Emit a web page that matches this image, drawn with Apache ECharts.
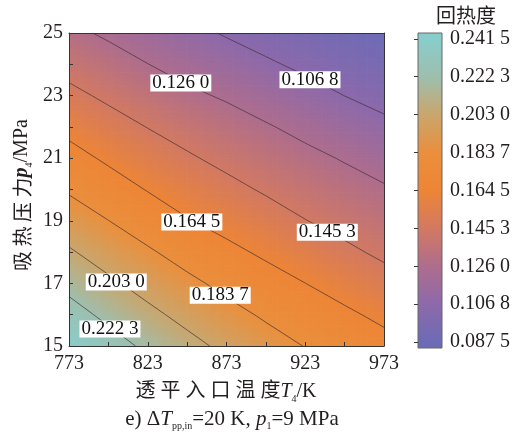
<!DOCTYPE html>
<html>
<head>
<meta charset="utf-8">
<script src="https://cdn.jsdelivr.net/npm/echarts@6/dist/echarts.min.js"></script>
<style>
html, body { margin: 0; padding: 0; background: #fff; }
#chart { width: 522px; height: 441px; }
</style>
</head>
<body>
<div id="chart"></div>
<script>
// Turbine inlet temperature T4 (K): grid columns
const temps = [773, 798, 823, 848, 873, 898, 923, 948, 973];
// Heat-absorption pressure p4 (MPa): grid rows
const pressures = [15, 16, 17, 18, 19, 20, 21, 22, 23, 24, 25];
// Regeneration degree; one row per pressure (15 -> 25 MPa), one value per temperature
const regen = [
  [0.2415, 0.2301, 0.2188, 0.2084, 0.1990, 0.1908, 0.1832, 0.1762, 0.1698],
  [0.2295, 0.2180, 0.2073, 0.1978, 0.1893, 0.1814, 0.1739, 0.1673, 0.1609],
  [0.2171, 0.2062, 0.1964, 0.1877, 0.1792, 0.1714, 0.1646, 0.1580, 0.1511],
  [0.2049, 0.1949, 0.1859, 0.1768, 0.1686, 0.1617, 0.1552, 0.1484, 0.1424],
  [0.1933, 0.1839, 0.1747, 0.1655, 0.1589, 0.1525, 0.1457, 0.1402, 0.1350],
  [0.1817, 0.1726, 0.1637, 0.1563, 0.1498, 0.1435, 0.1379, 0.1326, 0.1277],
  [0.1706, 0.1618, 0.1542, 0.1473, 0.1411, 0.1355, 0.1301, 0.1248, 0.1190],
  [0.1598, 0.1520, 0.1449, 0.1387, 0.1328, 0.1274, 0.1216, 0.1157, 0.1101],
  [0.1494, 0.1423, 0.1359, 0.1290, 0.1242, 0.1182, 0.1124, 0.1067, 0.1021],
  [0.1395, 0.1330, 0.1262, 0.1204, 0.1148, 0.1089, 0.1037, 0.0990, 0.0947],
  [0.1298, 0.1235, 0.1173, 0.1113, 0.1054, 0.1004, 0.0957, 0.0913, 0.0875]
];
// Colour-bar ticks / contour levels
const levels = [0.0875, 0.1068, 0.1260, 0.1453, 0.1645, 0.1837, 0.2030, 0.2223, 0.2415];
// Levels drawn as contour lines
const lineLevels = [0.1068, 0.1260, 0.1453, 0.1645, 0.1837, 0.2030, 0.2223];
// Axis tick values
const tempTicks = [773, 798, 823, 848, 873, 898, 923, 948, 973];
const tempLabels = [773, 823, 873, 923, 973];
const pressTicks = [15, 16, 17, 18, 19, 20, 21, 22, 23, 24, 25];
const pressLabels = [15, 17, 19, 21, 23, 25];

// Where along each contour its label box sits (temperature, K)
const labelAtTemp = [926, 844, 937, 851, 869, 803, 799];

// Colour ramp, one colour per level from low to high
const palette = ['#6d6bb6', '#8c69ab', '#ae6d8d', '#d27962', '#ed8536',
                 '#ea8f3d', '#c9a66d', '#9dbfaf', '#89cdcb'];
const vLow = levels[0], vHigh = levels[levels.length - 1];
function colorOf(v) {
  let t = (v - vLow) / (vHigh - vLow);
  t = Math.max(0, Math.min(1, t));
  return echarts.color.lerp(t, palette);
}
function fmt(v) {
  const s = v.toFixed(4);
  return s.slice(0, 5) + ' ' + s.slice(5);
}

const nT = temps.length, nP = pressures.length;

// grid nodes for the shaded field
const nodes = [];
for (let j = 0; j < nP; j++) {
  for (let i = 0; i < nT; i++) nodes.push([temps[i], pressures[j], regen[j][i]]);
}

// shade each grid cell (node -> next node up/right) finely
function renderCell(params, api) {
  const k = params.dataIndex;
  const i = k % nT, j = Math.floor(k / nT);
  if (i >= nT - 1 || j >= nP - 1) return null;
  const a = api.coord([temps[i], pressures[j]]);
  const b = api.coord([temps[i + 1], pressures[j + 1]]);
  const v00 = regen[j][i], v10 = regen[j][i + 1];
  const v01 = regen[j + 1][i], v11 = regen[j + 1][i + 1];
  const NX = 14, NY = 12;
  const w = (b[0] - a[0]) / NX, h = (a[1] - b[1]) / NY;
  const children = [];
  for (let m = 0; m < NX; m++) {
    for (let n = 0; n < NY; n++) {
      const u = (m + 0.5) / NX, t = (n + 0.5) / NY;
      const v = (1 - u) * (1 - t) * v00 + u * (1 - t) * v10 + (1 - u) * t * v01 + u * t * v11;
      children.push({
        type: 'rect',
        shape: { x: a[0] + m * w, y: a[1] - (n + 1) * h, width: w + 0.7, height: h + 0.7 },
        style: { fill: colorOf(v) }
      });
    }
  }
  return { type: 'group', children: children };
}

// marching squares over the grid for one level
function contourSegments(level) {
  const segs = [];
  for (let j = 0; j < nP - 1; j++) {
    for (let i = 0; i < nT - 1; i++) {
      const c = [
        [temps[i], pressures[j], regen[j][i]],
        [temps[i + 1], pressures[j], regen[j][i + 1]],
        [temps[i + 1], pressures[j + 1], regen[j + 1][i + 1]],
        [temps[i], pressures[j + 1], regen[j + 1][i]]
      ];
      const pts = [];
      for (let e = 0; e < 4; e++) {
        const A = c[e], B = c[(e + 1) % 4];
        if ((A[2] < level) !== (B[2] < level)) {
          const f = (level - A[2]) / (B[2] - A[2]);
          pts.push([A[0] + f * (B[0] - A[0]), A[1] + f * (B[1] - A[1])]);
        }
      }
      if (pts.length === 2) segs.push(pts);
      else if (pts.length === 4) { segs.push([pts[0], pts[1]]); segs.push([pts[2], pts[3]]); }
    }
  }
  return segs;
}

// pressure at which a level is reached for a given temperature
function pressureOnContour(level, T) {
  let i = 0;
  while (i < nT - 2 && temps[i + 1] < T) i++;
  const f = (T - temps[i]) / (temps[i + 1] - temps[i]);
  const col = regen.map(row => (1 - f) * row[i] + f * row[i + 1]);
  for (let j = 0; j < nP - 1; j++) {
    if ((col[j] < level) !== (col[j + 1] < level)) {
      return pressures[j] + (level - col[j]) / (col[j + 1] - col[j]) * (pressures[j + 1] - pressures[j]);
    }
  }
  return null;
}

const segData = [];
lineLevels.forEach(L => contourSegments(L).forEach(s => segData.push({ coords: s })));

const labelData = [];
lineLevels.forEach((L, k) => {
  const T = labelAtTemp[k];
  const p = pressureOnContour(L, T);
  if (p !== null) labelData.push([T, p, L]);
});

// colour-bar gradient (top = high)
const barMin = 0.0845, barMax = 0.2445;
const barStops = [{ offset: 0, color: palette[palette.length - 1] }];
for (let k = levels.length - 1; k >= 0; k--) {
  barStops.push({ offset: (barMax - levels[k]) / (barMax - barMin), color: palette[k] });
}
barStops.push({ offset: 1, color: palette[0] });

const serif = '"Liberation Serif", "Times New Roman", serif';
const cjk = '"Noto Sans CJK SC", sans-serif';
const ink = '#231f20';

const chart = echarts.init(document.getElementById('chart'), null, { renderer: 'canvas' });
chart.setOption({
  animation: false,
  backgroundColor: '#fff',
  grid: [
    { left: 69, top: 33, width: 315, height: 313, outerBoundsMode: 'none' },
    { left: 418, top: 33, width: 24, height: 315, outerBoundsMode: 'none' }
  ],
  xAxis: [
    {
      type: 'value', gridIndex: 0, min: 773, max: 973, position: 'bottom', z: 10,
      axisLine: { show: true, lineStyle: { color: '#333', width: 1 } },
      axisTick: { show: true, inside: true, length: 4, customValues: tempTicks, lineStyle: { color: '#333' } },
      axisLabel: { customValues: tempLabels, fontFamily: serif, fontSize: 20, color: ink, margin: 8 },
      splitLine: { show: false }
    },
    {
      type: 'value', gridIndex: 0, min: 773, max: 973, position: 'top', z: 10,
      axisLine: { show: true, lineStyle: { color: '#333', width: 1 } },
      axisTick: { show: false }, axisLabel: { show: false }, splitLine: { show: false }
    },
    { type: 'value', gridIndex: 1, min: 0, max: 1, show: false }
  ],
  yAxis: [
    {
      type: 'value', gridIndex: 0, min: 15, max: 25, interval: 1, position: 'left', z: 10,
      axisLine: { show: true, lineStyle: { color: '#333', width: 1 } },
      axisTick: { show: true, inside: true, length: 4, customValues: pressTicks, lineStyle: { color: '#333' } },
      axisLabel: { customValues: pressLabels, fontFamily: serif, fontSize: 20, color: ink, margin: 6 },
      splitLine: { show: false }
    },
    {
      type: 'value', gridIndex: 0, min: 15, max: 25, position: 'right', z: 10,
      axisLine: { show: true, lineStyle: { color: '#333', width: 1 } },
      axisTick: { show: false }, axisLabel: { show: false }, splitLine: { show: false }
    },
    {
      type: 'value', gridIndex: 1, min: barMin, max: barMax, position: 'right', z: 10,
      axisLine: { show: false },
      axisTick: { show: true, inside: true, length: 4, customValues: levels, lineStyle: { color: '#3a3a3a' } },
      axisLabel: { customValues: levels, formatter: fmt, fontFamily: serif, fontSize: 20, color: ink, margin: 8 },
      splitLine: { show: false }
    }
  ],
  graphic: [
    {
      type: 'rect', z: 1,
      shape: { x: 418, y: 33, width: 24, height: 315 },
      style: {
        fill: new echarts.graphic.LinearGradient(0, 0, 0, 1, barStops),
        stroke: '#666', lineWidth: 1
      }
    },
    {
      type: 'text', x: 466, y: 15,
      style: { text: '回热度', font: '20px ' + cjk, fill: ink, align: 'center', verticalAlign: 'middle' }
    },
    {
      type: 'text', x: 226, y: 392,
      style: {
        text: '{c|透 平 入 口 温 度}{i|T}{s|4}{n|/K}',
        align: 'center', verticalAlign: 'middle',
        rich: {
          c: { fontFamily: serif + ', ' + cjk, fontSize: 20, fill: ink, lineHeight: 24 },
          i: { fontFamily: serif, fontStyle: 'italic', fontSize: 20, fill: ink, lineHeight: 24 },
          s: { fontFamily: serif, fontSize: 10, fill: ink, lineHeight: 24, verticalAlign: 'bottom' },
          n: { fontFamily: serif, fontSize: 20, fill: ink, lineHeight: 24 }
        }
      }
    },
    {
      type: 'text', x: 232, y: 419,
      style: {
        text: '{n|e) Δ}{i|T}{s|pp,in}{n|=20 K, }{i|p}{s|1}{n|=9 MPa}',
        align: 'center', verticalAlign: 'middle',
        rich: {
          i: { fontFamily: serif, fontStyle: 'italic', fontSize: 21, fill: ink, lineHeight: 24 },
          s: { fontFamily: serif, fontSize: 10, fill: ink, lineHeight: 24, verticalAlign: 'bottom' },
          n: { fontFamily: serif, fontSize: 21, fill: ink, lineHeight: 24 }
        }
      }
    },
    {
      type: 'text', x: 22, y: 195, rotation: Math.PI / 2,
      style: {
        text: '{c|吸 热 压 力}{i|p}{s|4}{n|/MPa}',
        align: 'center', verticalAlign: 'middle',
        rich: {
          c: { fontFamily: cjk, fontSize: 20, fill: ink, lineHeight: 24 },
          i: { fontFamily: serif, fontStyle: 'italic', fontWeight: 'bold', fontSize: 20, fill: ink, lineHeight: 24 },
          s: { fontFamily: serif, fontSize: 10, fill: ink, lineHeight: 24, verticalAlign: 'bottom' },
          n: { fontFamily: serif, fontSize: 20, fill: ink, lineHeight: 24 }
        }
      }
    }
  ],
  series: [
    {
      type: 'custom', name: '回热度', coordinateSystem: 'cartesian2d',
      xAxisIndex: 0, yAxisIndex: 0, clip: true, silent: true, z: 2,
      encode: { x: 0, y: 1 },
      renderItem: renderCell,
      data: nodes
    },
    {
      type: 'lines', coordinateSystem: 'cartesian2d', xAxisIndex: 0, yAxisIndex: 0,
      polyline: false, silent: true, z: 3,
      lineStyle: { color: '#3b3035', width: 0.8, opacity: 0.85 },
      data: segData
    },
    {
      type: 'scatter', xAxisIndex: 0, yAxisIndex: 0, symbolSize: 0, silent: true, z: 4,
      itemStyle: { opacity: 1 },
      emphasis: { disabled: true },
      label: {
        show: true, position: 'inside', opacity: 1,
        formatter: p => fmt(p.value[2]),
        fontFamily: serif, fontSize: 19, color: '#111',
        backgroundColor: '#ffffff', padding: [0, 2], lineHeight: 17, offset: [0, 2]
      },
      data: labelData
    }
  ]
});
</script>
</body>
</html>
